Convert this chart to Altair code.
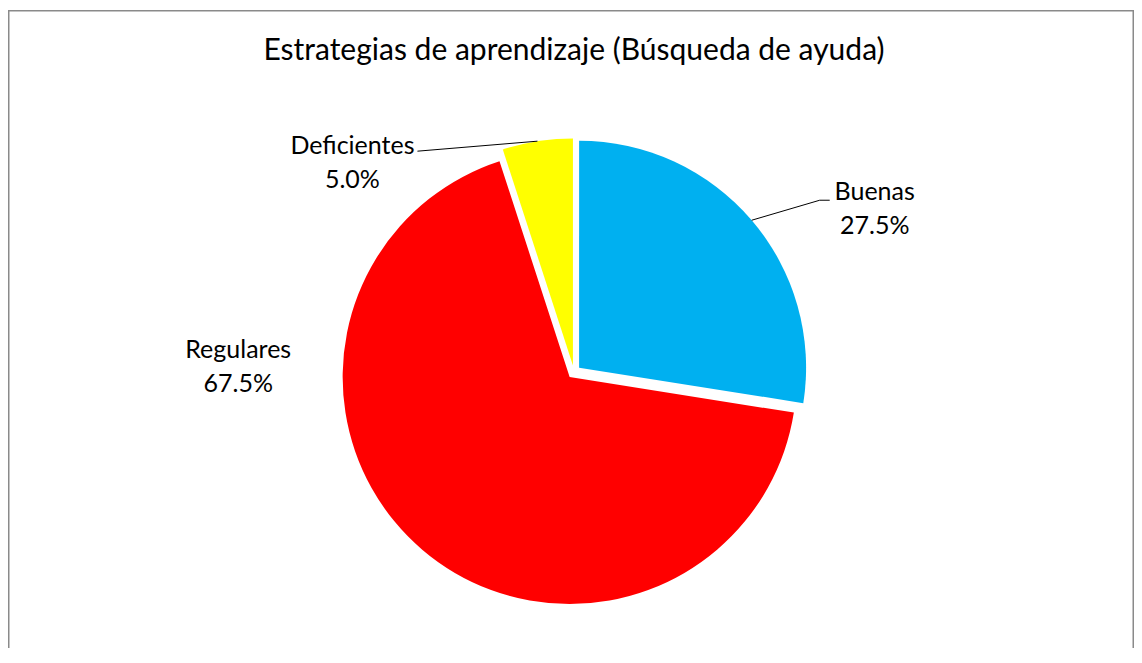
import math
import altair as alt
import pandas as pd

# ---- data ----
categories = ["Buenas", "Regulares", "Deficientes"]
percentages = [27.5, 67.5, 5.0]
colors = ["#00B0F0", "#FF0000", "#FFFF00"]
title_text = "Estrategias de aprendizaje (Búsqueda de ayuda)"

# ---- layout / style (kept apart from the data) ----
W, H = 1126, 560
PAD_TOP = 80
CX, CY = 566, 284       # base pie centre (plot coords)
R = 227                 # pie radius
EXPLODE = 6.7           # slice explosion distance
FONT = "Lato"

# label (first line) offsets relative to the slice's outer edge at mid angle
label_dx = {"Buenas": 123, "Regulares": -184, "Deficientes": -185}
label_dy = {"Buenas": -28, "Regulares": -200, "Deficientes": 5}
# leader-line elbow / end offsets relative to the same edge point
lead_x1 = {"Buenas": 68, "Regulares": None, "Deficientes": -120}
lead_y1 = {"Buenas": -20, "Regulares": None, "Deficientes": 10}
lead_x2 = {"Buenas": 78, "Regulares": None, "Deficientes": -120}
lead_y2 = {"Buenas": -20, "Regulares": None, "Deficientes": 10}

df = pd.DataFrame({
    "categoria": categories,
    "porcentaje": percentages,
    "orden": list(range(len(categories))),
    "tx": [label_dx[c] for c in categories],
    "ty": [label_dy[c] for c in categories],
    "l1x": [lead_x1[c] for c in categories],
    "l1y": [lead_y1[c] for c in categories],
    "l2x": [lead_x2[c] for c in categories],
    "l2y": [lead_y2[c] for c in categories],
})

base = (
    alt.Chart(df)
    .transform_window(fin="sum(porcentaje)", sort=[alt.SortField("orden")], frame=[None, 0])
    .transform_joinaggregate(total="sum(porcentaje)")
    .transform_calculate(inicio="datum.fin - datum.porcentaje")
    .transform_calculate(medio="PI * (2 * datum.fin - datum.porcentaje) / datum.total")
    .transform_calculate(cx=f"{CX} + {EXPLODE} * sin(datum.medio)")
    .transform_calculate(cy=f"{CY} - {EXPLODE} * cos(datum.medio)")
    .transform_calculate(ex=f"datum.cx + {R} * sin(datum.medio)")
    .transform_calculate(ey=f"datum.cy - {R} * cos(datum.medio)")
    .transform_calculate(etiqueta="datum.categoria + '\\n' + format(datum.porcentaje, '.1f') + '%'")
)

arcs = base.mark_arc(radius=R).encode(
    x=alt.X("cx:Q", scale=None, axis=None),
    y=alt.Y("cy:Q", scale=None, axis=None),
    theta=alt.Theta("inicio:Q", scale=alt.Scale(domain=[0, 100], range=[0, 2 * math.pi])),
    theta2="fin:Q",
    color=alt.Color("categoria:N", scale=alt.Scale(domain=categories, range=colors), legend=None),
)

leaders = base.transform_filter("isValid(datum.l1x)").transform_calculate(
    ax1="datum.ex + datum.l1x", ay1="datum.ey + datum.l1y",
).transform_calculate(
    ax2="datum.ex + datum.l2x", ay2="datum.ey + datum.l2y",
)

lead1 = leaders.mark_rule(color="black", strokeWidth=1).encode(
    x=alt.X("ex:Q", scale=None, axis=None),
    y=alt.Y("ey:Q", scale=None, axis=None),
    x2="ax1:Q",
    y2="ay1:Q",
)
lead2 = leaders.mark_rule(color="black", strokeWidth=1).encode(
    x=alt.X("ax1:Q", scale=None, axis=None),
    y=alt.Y("ay1:Q", scale=None, axis=None),
    x2="ax2:Q",
    y2="ay2:Q",
)

labels = base.transform_calculate(
    lx="datum.ex + datum.tx", ly="datum.ey + datum.ty",
).mark_text(
    font=FONT, fontSize=25, color="black", align="center", baseline="middle",
    lineBreak="\n", lineHeight=34,
).encode(
    x=alt.X("lx:Q", scale=None, axis=None),
    y=alt.Y("ly:Q", scale=None, axis=None),
    text="etiqueta:N",
)

frame_src = alt.Chart(pd.DataFrame({"k": [0]}))
title_mark = frame_src.mark_text(
    font=FONT, fontSize=30, color="black", align="center", baseline="alphabetic",
).encode(
    x=alt.value(W / 2 + 3), y=alt.value(-28), text=alt.value(title_text))

border_left = frame_src.mark_rule(color="#8a8a8a", strokeWidth=1.5).encode(
    x=alt.value(0.75), y=alt.value(-PAD_TOP + 2), y2=alt.value(H))
border_top = frame_src.mark_rule(color="#8a8a8a", strokeWidth=1.5).encode(
    x=alt.value(0), x2=alt.value(W - 0.75), y=alt.value(-PAD_TOP + 2.75))
border_right = frame_src.mark_rule(color="#8a8a8a", strokeWidth=1.5).encode(
    x=alt.value(W - 0.75), y=alt.value(-PAD_TOP + 2), y2=alt.value(H))

chart = alt.layer(
    border_left, border_top, border_right, title_mark, arcs, lead1, lead2, labels
).properties(
    width=W,
    height=H,
    autosize=alt.AutoSizeParams(type="none"),
    padding={"left": 0, "right": 0, "top": PAD_TOP, "bottom": 0},
    background="white",
).configure_view(stroke=None)

chart.save("out.html", embed_options={"renderer": "svg", "actions": False})
